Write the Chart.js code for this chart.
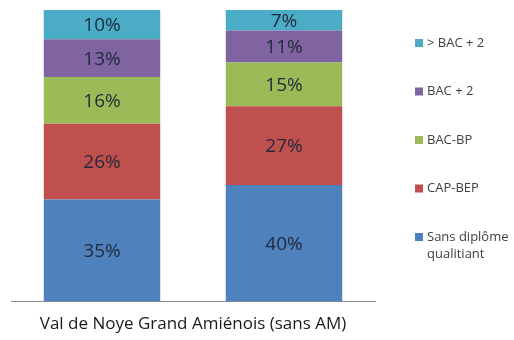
<!DOCTYPE html>
<html>
<head>
<meta charset="utf-8">
<script src="https://cdn.jsdelivr.net/npm/chart.js@4/dist/chart.umd.min.js"></script>
<style>
  html, body { margin: 0; padding: 0; background: #fff; }
  #wrap { width: 514px; height: 340px; }
</style>
</head>
<body>
<div id="wrap"><canvas id="diplomeChart"></canvas></div>
<script>
  // categories and series (percent)
  const territoires = ['Val de Noye', 'Grand Amiénois (sans AM)'];
  const sansDiplome = [35, 40];
  const capBep = [26, 27];
  const bacBp = [16, 15];
  const bac2 = [13, 11];
  const supBac2 = [10, 7];
  const axisLabel = 'Val de Noye Grand Amiénois (sans AM)';

  const FONT = "'Open Sans', 'Liberation Sans', sans-serif";

  // value labels in the middle of each segment
  const valueLabels = {
    id: 'valueLabels',
    afterDatasetsDraw(chart) {
      const c = chart.ctx;
      c.save();
      c.font = '19px ' + FONT;
      c.fillStyle = '#1f2a3c';
      c.textAlign = 'center';
      c.textBaseline = 'middle';
      chart.data.datasets.forEach((ds, i) => {
        chart.getDatasetMeta(i).data.forEach((bar, j) => {
          const p = bar.getProps(['x', 'y', 'base'], true);
          c.fillText(ds.data[j] + '%', p.x, (p.y + p.base) / 2 + 1);
        });
      });
      c.restore();
    }
  };

  // legend at right, top dataset first
  const sideLegend = {
    id: 'sideLegend',
    afterDraw(chart) {
      const c = chart.ctx;
      const sets = chart.data.datasets.slice().reverse();
      c.save();
      c.font = '13px ' + FONT;
      c.textBaseline = 'middle';
      c.textAlign = 'left';
      let y = 43;
      sets.forEach(ds => {
        c.fillStyle = ds.backgroundColor;
        c.fillRect(415, y - 4, 8, 8);
        c.fillStyle = '#404040';
        const lines = Array.isArray(ds.label) ? ds.label : [ds.label];
        lines.forEach((t, k) => c.fillText(t, 427, y + k * 17));
        y += 48.5;
      });
      c.restore();
    }
  };

  const ctx = document.getElementById('diplomeChart');
  const diplomeChart = new Chart(ctx, {
    type: 'bar',
    data: {
      labels: territoires,
      datasets: [
        { label: ['Sans diplôme', 'qualitiant'], data: sansDiplome, backgroundColor: '#4F81BD' },
        { label: 'CAP-BEP', data: capBep, backgroundColor: '#C0504D' },
        { label: 'BAC-BP', data: bacBp, backgroundColor: '#9BBB59' },
        { label: 'BAC + 2', data: bac2, backgroundColor: '#8064A2' },
        { label: '> BAC + 2', data: supBac2, backgroundColor: '#4BACC6' }
      ]
    },
    options: {
      responsive: true,
      maintainAspectRatio: false,
      animation: false,
      layout: { padding: { left: 11, right: 139, top: 10, bottom: 3 } },
      datasets: { bar: { categoryPercentage: 1, barPercentage: 0.64, borderWidth: 0 } },
      plugins: {
        legend: { display: false },
        tooltip: { enabled: false }
      },
      scales: {
        x: {
          stacked: true,
          grid: { display: false, drawTicks: false },
          border: { display: true, color: '#8c8c8c', width: 1 },
          ticks: { display: false },
          title: {
            display: true,
            text: axisLabel,
            color: '#1a1a1a',
            font: { family: FONT, size: 17 },
            padding: { top: 12, bottom: 3 }
          }
        },
        y: {
          stacked: true,
          min: 0,
          max: 100,
          display: false
        }
      }
    },
    plugins: [valueLabels, sideLegend]
  });
</script>
</body>
</html>
